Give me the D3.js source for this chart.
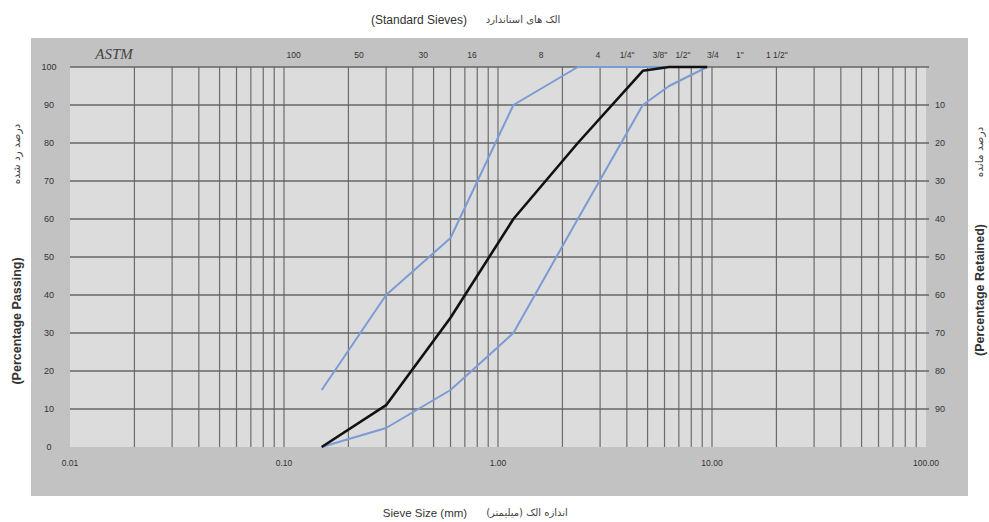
<!DOCTYPE html>
<html>
<head>
<meta charset="utf-8">
<script src="https://cdn.jsdelivr.net/npm/d3@7"></script>
<style>
  html,body{margin:0;padding:0;background:#fff;}
  svg{display:block;}
</style>
</head>
<body>
<div id="chart"></div>
<script>
// grading chart: sample curve + ASTM limits (percent passing vs sieve size, log scale)
const sieveSizes = [0.15, 0.3, 0.6, 1.18, 2.36, 4.75, 6.3, 9.5];
const samplePassing = [0, 11, 34, 60, 80, 99, 100, 100];
const upperLimit = [15, 40, 55, 90, 100, 100, 100, 100];
const lowerLimit = [0, 5, 15, 30, 60, 90, 95, 100];

const xTicks = [0.01, 0.1, 1, 10, 100];
const xTickLabels = ['0.01', '0.10', '1.00', '10.00', '100.00'];
const passTicks = [0, 10, 20, 30, 40, 50, 60, 70, 80, 90, 100];
const retainTicks = [10, 20, 30, 40, 50, 60, 70, 80, 90];

// sieve names, placed at the size where they sit in the picture
const sieveNames = ['100', '50', '30', '16', '8', '4', '1/4"', '3/8"', '1/2"', '3/4', '1"', '1 1/2"'];
const sieveNamePos = [0.111, 0.224, 0.447, 0.756, 1.59, 2.93, 4.01, 5.71, 7.32, 10.1, 13.5, 20.1];

(function(){
  const W = 989, H = 522;
  const svg = d3.select('#chart').append('svg').attr('width', W).attr('height', H);
  const plot = {left: 70, right: 926, top: 67, bottom: 447};

  const x = d3.scaleLog().domain([0.01, 100]).range([plot.left, plot.right]);
  const y = d3.scaleLinear().domain([0, 100]).range([plot.bottom, plot.top]);

  const numFont = '"Liberation Sans Narrow", "Liberation Sans", sans-serif';
  const faFont = '"DejaVu Sans", sans-serif';

  // outer grey panel and plot area
  svg.append('rect').attr('x', 31).attr('y', 38).attr('width', 937).attr('height', 458).attr('fill', '#c2c2c2');
  svg.append('rect').attr('x', plot.left).attr('y', plot.top)
    .attr('width', plot.right - plot.left).attr('height', plot.bottom - plot.top).attr('fill', '#dcdcdc');

  // log grid: 1..9 in each decade
  const vLines = [];
  for (let k = -2; k < 2; k++) for (let m = 1; m < 10; m++) {
    const v = m * Math.pow(10, k);
    if (v > 0.01) vLines.push(v);
  }
  svg.append('g').selectAll('line').data(vLines).enter().append('line')
    .attr('x1', d => x(d)).attr('x2', d => x(d))
    .attr('y1', plot.top).attr('y2', plot.bottom)
    .attr('stroke', '#6c6c6c').attr('stroke-width', 1.2);

  svg.append('g').selectAll('line').data(passTicks.filter(d => d > 0)).enter().append('line')
    .attr('x1', plot.left).attr('x2', plot.right + 3)
    .attr('y1', d => y(d)).attr('y2', d => y(d))
    .attr('stroke', '#666').attr('stroke-width', 1.3);

  // curves
  const line = d3.line().x(d => x(d[0])).y(d => y(d[1]));
  const series = [
    {vals: upperLimit, color: '#7b9bd5', w: 2},
    {vals: lowerLimit, color: '#7b9bd5', w: 2},
    {vals: samplePassing, color: '#111', w: 2.6}
  ];
  series.forEach(s => {
    svg.append('path').datum(sieveSizes.map((d, i) => [d, s.vals[i]]))
      .attr('d', line).attr('fill', 'none')
      .attr('stroke', s.color).attr('stroke-width', s.w).attr('stroke-linejoin', 'round');
  });

  // left ticks (passing)
  svg.append('g').selectAll('text').data(passTicks).enter().append('text')
    .attr('x', 49).attr('y', d => y(d) + 3).attr('text-anchor', 'middle')
    .attr('font-family', numFont).attr('font-size', 9).attr('fill', '#333').text(d => d);

  // right ticks (retained)
  svg.append('g').selectAll('text').data(retainTicks).enter().append('text')
    .attr('x', 940).attr('y', d => y(100 - d) + 3).attr('text-anchor', 'middle')
    .attr('font-family', numFont).attr('font-size', 9).attr('fill', '#333').text(d => d);

  // bottom ticks
  svg.append('g').selectAll('text').data(xTicks).enter().append('text')
    .attr('x', d => x(d)).attr('y', 466).attr('text-anchor', 'middle')
    .attr('font-family', numFont).attr('font-size', 8.5).attr('fill', '#333')
    .text((d, i) => xTickLabels[i]);

  // top sieve names
  svg.append('g').selectAll('text').data(sieveNames).enter().append('text')
    .attr('x', (d, i) => x(sieveNamePos[i])).attr('y', 58).attr('text-anchor', 'middle')
    .attr('font-family', numFont).attr('font-size', 8.5).attr('fill', '#333').text(d => d);

  svg.append('text').attr('x', 114).attr('y', 59).attr('text-anchor', 'middle')
    .attr('font-family', '"Liberation Serif", serif').attr('font-style', 'italic')
    .attr('font-size', 15).attr('fill', '#444').text('ASTM');

  // titles
  svg.append('text').attr('x', 419).attr('y', 24).attr('text-anchor', 'middle')
    .attr('font-family', numFont).attr('font-size', 12).attr('fill', '#333').text('(Standard Sieves)');
  svg.append('text').attr('x', 523).attr('y', 23).attr('text-anchor', 'middle')
    .attr('font-family', faFont).attr('font-size', 10).attr('fill', '#444').text('الک های استاندارد');

  svg.append('text').attr('x', 425).attr('y', 517).attr('text-anchor', 'middle')
    .attr('font-family', numFont).attr('font-size', 11.5).attr('fill', '#333').text('Sieve Size (mm)');
  svg.append('text').attr('x', 527).attr('y', 516).attr('text-anchor', 'middle')
    .attr('font-family', faFont).attr('font-size', 10).attr('fill', '#444').text('اندازه الک (میلیمتر)');

  // vertical axis titles
  svg.append('text').attr('transform', 'translate(21,321) rotate(-90)').attr('text-anchor', 'middle')
    .attr('font-family', '"Liberation Sans", sans-serif').attr('font-weight', 'bold')
    .attr('font-size', 12.5).attr('fill', '#333').text('(Percentage Passing)');
  svg.append('text').attr('transform', 'translate(20,154) rotate(-90)').attr('text-anchor', 'middle')
    .attr('font-family', faFont).attr('font-size', 10.5).attr('fill', '#444').text('درصد رد شده');

  svg.append('text').attr('transform', 'translate(984,290) rotate(-90)').attr('text-anchor', 'middle')
    .attr('font-family', '"Liberation Sans", sans-serif').attr('font-weight', 'bold')
    .attr('font-size', 12.5).attr('fill', '#333').text('(Percentage Retained)');
  svg.append('text').attr('transform', 'translate(983,152) rotate(-90)').attr('text-anchor', 'middle')
    .attr('font-family', faFont).attr('font-size', 10.5).attr('fill', '#444').text('درصد مانده');
})();
</script>
</body>
</html>
